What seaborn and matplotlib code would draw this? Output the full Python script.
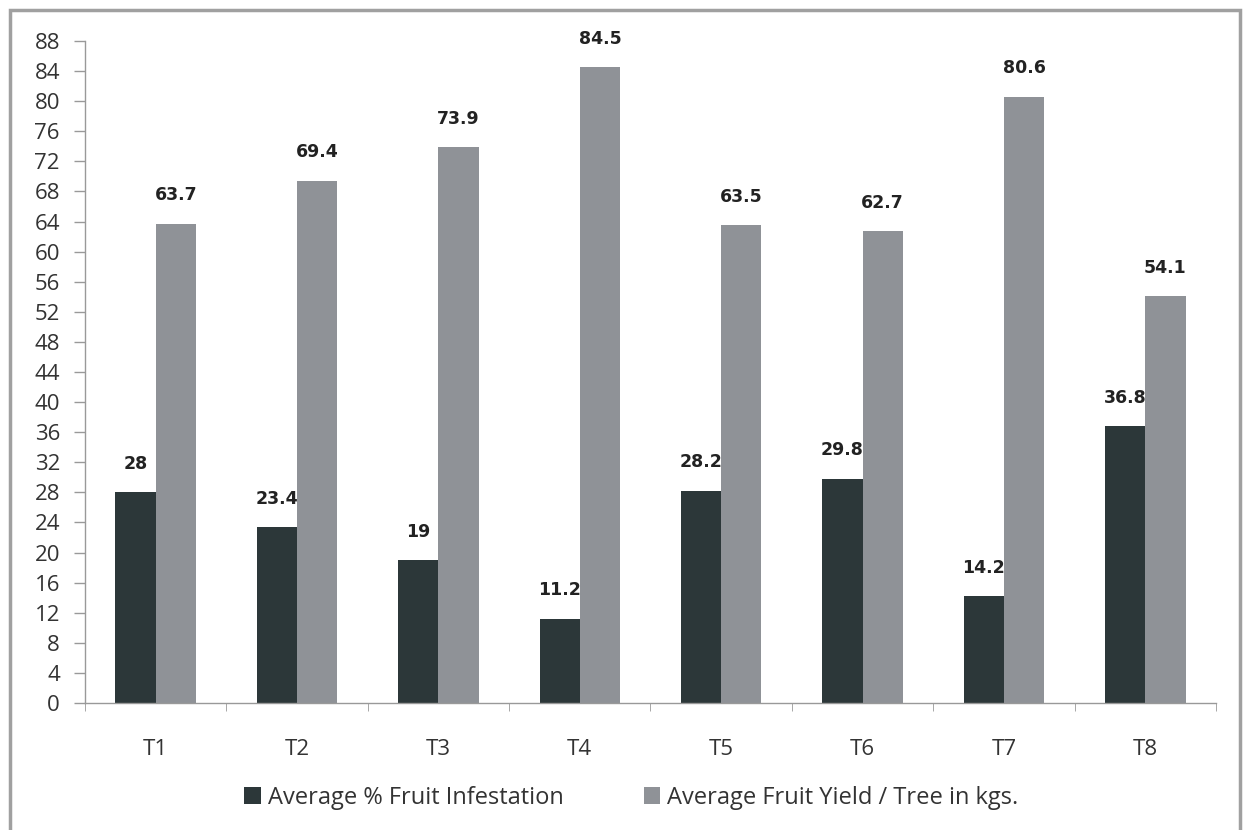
import pandas as pd
import matplotlib.pyplot as plt
import seaborn as sns
import numpy as np
from matplotlib.patches import Rectangle
from matplotlib.ticker import FixedLocator

# --------------------------------
# Data
# --------------------------------
treatments = ['T1', 'T2', 'T3', 'T4', 'T5', 'T6', 'T7', 'T8']
infestation = [28, 23.4, 19, 11.2, 28.2, 29.8, 14.2, 36.8]
fruit_yield = [63.7, 69.4, 73.9, 84.5, 63.5, 62.7, 80.6, 54.1]
series_names = ['Average % Fruit Infestation', 'Average Fruit Yield / Tree in kgs.']

df = pd.DataFrame({
    'Treatment': treatments * 2,
    'Value': infestation + fruit_yield,
    'Series': [series_names[0]] * len(treatments) + [series_names[1]] * len(treatments),
})

sns.set_style("white")
plt.rcParams['font.family'] = ['Open Sans', 'DejaVu Sans']

fig = plt.figure(figsize=(12.44, 8.3), dpi=100)
ax = fig.add_axes([0.0683, 0.153, 0.9092, 0.7976])

palette = {series_names[0]: '#2c3739', series_names[1]: '#8f9297'}
sns.barplot(data=df, x='Treatment', y='Value', hue='Series', palette=palette,
            width=0.57, saturation=1, linewidth=0, ax=ax, legend=True)

# value labels above bars
for cont in ax.containers:
    ax.bar_label(cont, labels=[f'{v:g}' for v in cont.datavalues], padding=14,
                 fontsize=12.5, fontweight='bold', color='#222222',
                 family='DejaVu Sans')

ax.set_ylim(0, 88)
ax.set_xlim(-0.5, len(treatments) - 0.5)
ax.set_yticks(np.arange(0, 89, 4))
ax.tick_params(axis='y', labelsize=16, color='#999999', labelcolor='#333333',
               length=8, width=1, direction='out', left=True, pad=10)
ax.tick_params(axis='x', which='major', length=0, labelsize=16,
               labelcolor='#333333', pad=26)
ax.xaxis.set_minor_locator(FixedLocator(np.arange(-0.5, len(treatments), 1.0)))
ax.tick_params(axis='x', which='minor', length=6, color='#999999', bottom=True)
ax.set_xlabel('')
ax.set_ylabel('')

for s in ['top', 'right']:
    ax.spines[s].set_visible(False)
for s in ['left', 'bottom']:
    ax.spines[s].set_color('#999999')
    ax.spines[s].set_linewidth(1)

leg = ax.legend(loc='upper center', bbox_to_anchor=(0.483, -0.093), ncol=2,
                frameon=False, fontsize=17, handlelength=0.7, handleheight=0.7,
                handletextpad=0.3, columnspacing=3.4)
for t in leg.get_texts():
    t.set_color('#333333')

# outer chart frame
fig.patches.append(Rectangle((10 / 1244, -0.02), 1230 / 1244, 1.02 - 10 / 830,
                             transform=fig.transFigure, fill=False,
                             edgecolor='#a0a0a0', linewidth=2.5))

fig.savefig('out.png', dpi=100)
